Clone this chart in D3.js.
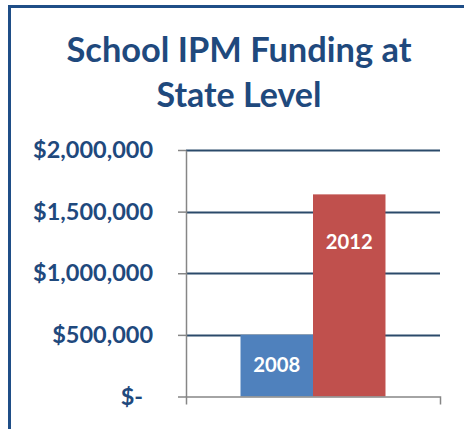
<!DOCTYPE html>
<html><head><meta charset="utf-8">
<script src="https://cdn.jsdelivr.net/npm/d3@7"></script>
<style>body{margin:0;background:#fff}svg{display:block}</style>
</head><body>
<svg id="c" width="464" height="429"></svg>
<script>
const titleLines = ["School IPM Funding at", "State Level"];
const categories = ["State Level"];
const seriesNames = ["2008", "2012"];
const seriesValues = [500000, 1640000];
const tickValues = [0, 500000, 1000000, 1500000, 2000000];
const tickLabels = ["$-", "$500,000", "$1,000,000", "$1,500,000", "$2,000,000"];
const colors = ["#4F81BD", "#C0504D"];

const svg = d3.select("#c");
const font = "Lato, 'Open Sans', sans-serif";
const navy = "#1F497D";

svg.append("rect").attr("x", 9.5).attr("y", 6.5).attr("width", 600).attr("height", 600)
  .attr("fill", "none").attr("stroke", "#1F4E87").attr("stroke-width", 3);

function fit(sel, target) {
  const w = sel.node().getComputedTextLength();
  const fs = parseFloat(sel.attr("font-size"));
  sel.attr("font-size", fs * target / w);
}

const titleY = [62, 107], titleW = [345, 165];
titleLines.forEach((t, i) => {
  const s = svg.append("text").attr("x", 239).attr("y", titleY[i]).attr("text-anchor", "middle")
    .attr("font-family", font).attr("font-weight", "bold").attr("font-size", 30)
    .attr("fill", navy).text(t);
  fit(s, titleW[i]);
});

const y = d3.scaleLinear().domain([0, 2000000]).range([396.5, 150]);
const x0 = d3.scaleBand().domain(categories).range([186, 440]).paddingInner(0).paddingOuter(0.376);
const x1 = d3.scaleBand().domain(seriesNames).range([0, x0.bandwidth()]).padding(0);

// gridlines
svg.append("g").selectAll("line").data(tickValues.filter(v => v > 0)).join("line")
  .attr("x1", 186).attr("x2", 440).attr("y1", d => Math.round(y(d)) + 0.5).attr("y2", d => Math.round(y(d)) + 0.5)
  .attr("stroke", "#2B4A6A").attr("stroke-width", 2);

// bars
const g = svg.append("g");
seriesNames.forEach((s, i) => {
  const v = seriesValues[i];
  const bx = x0(categories[0]) + x1(s);
  g.append("rect").attr("x", bx).attr("y", y(v)).attr("width", x1.bandwidth())
    .attr("height", y(0) - y(v)).attr("fill", colors[i]);
});

// y axis
const yAxis = d3.axisLeft(y).tickValues(tickValues).tickSizeInner(8).tickSizeOuter(0).tickPadding(25)
  .tickFormat((d, i) => tickLabels[i]);
const ya = svg.append("g").attr("transform", "translate(186,0)").call(yAxis);
ya.select(".domain").attr("stroke", "#868686").attr("stroke-width", 1.5);
ya.selectAll(".tick line").attr("stroke", "#868686").attr("stroke-width", 1.5);
ya.selectAll(".tick text").attr("font-family", font).attr("font-weight", "bold")
  .attr("font-size", 22).attr("fill", navy);
const big = ya.selectAll(".tick text").filter((d) => d === 2000000);
const w0 = big.node().getComputedTextLength();
const tfs = 22 * 120 / w0;
ya.selectAll(".tick text").attr("font-size", tfs);
ya.selectAll(".tick text").filter(d => d === 0).attr("dx", -10);

// x axis
const xAxis = d3.axisBottom(x0).tickSizeInner(0).tickSizeOuter(8).tickFormat("");
const xa = svg.append("g").attr("transform", `translate(0,${y(0)})`).call(xAxis);
xa.select(".domain").attr("stroke", "#868686").attr("stroke-width", 1.5);
xa.selectAll(".tick").remove();

// labels
seriesNames.forEach((s, i) => {
  const v = seriesValues[i];
  const bx = x0(categories[0]) + x1(s) + x1.bandwidth() / 2;
  const ly = i === 0 ? 372 : 249;
  const t = svg.append("text").attr("x", bx).attr("y", ly).attr("text-anchor", "middle")
    .attr("font-family", font).attr("font-weight", "bold").attr("font-size", 20)
    .attr("fill", "#fff").text(s);
  fit(t, 47);
});
</script>
</body></html>
